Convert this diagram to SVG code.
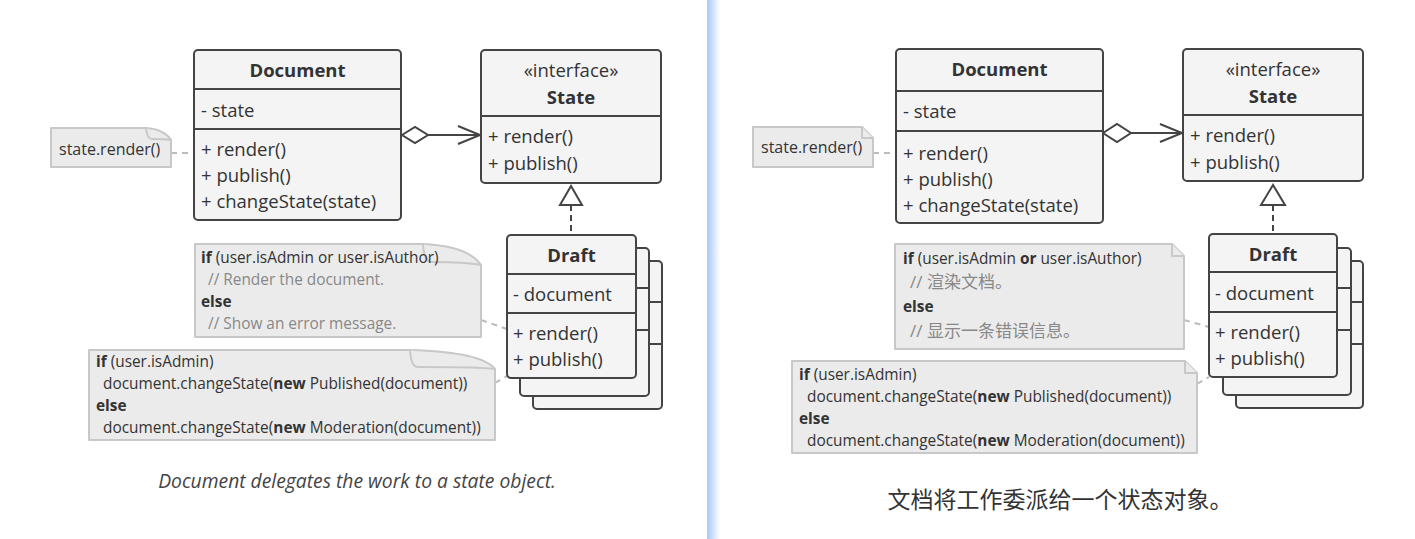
<svg xmlns="http://www.w3.org/2000/svg" width="1415" height="539" viewBox="0 0 1415 539">
<style>
.box{fill:#f4f4f4;stroke:#444;stroke-width:2}
.sep{stroke:#444;stroke-width:2}
.t{font-family:'Open Sans','Noto Sans CJK SC',sans-serif;font-size:18.5px;fill:#333}
.c{text-anchor:middle}
.b{font-weight:bold}
.note{fill:#ebebeb;stroke:#c8c8c8;stroke-width:2;stroke-linejoin:round}
.flap{fill:#ebebeb;stroke:#c8c8c8;stroke-width:2;stroke-linejoin:round}
.nt{font-family:'Open Sans','Noto Sans CJK SC',sans-serif;font-size:15.4px;fill:#333}
.cm{fill:#888}
.zh{font-size:17px}
.dash{stroke:#bbb;stroke-width:2;stroke-dasharray:6 5;fill:none}
.ln{stroke:#444;stroke-width:2;fill:none}
.dl{stroke:#444;stroke-width:2;stroke-dasharray:6 4;fill:none}
.cap{font-family:'Open Sans',sans-serif;font-size:19.3px;font-style:italic;fill:#444}
.capz{font-family:'Noto Sans CJK SC',sans-serif;font-size:23px;fill:#333}
</style>
<defs>
<linearGradient id="div" x1="0" y1="0" x2="1" y2="0">
<stop offset="0" stop-color="#a7c7f5"/>
<stop offset="1" stop-color="#ffffff"/>
</linearGradient>
</defs>
<rect x="0" y="0" width="1415" height="539" fill="#fff"/>
<rect x="707" y="0" width="13" height="539" fill="url(#div)"/>

<!-- LEFT HALF -->
<g id="connectors-left">
<path class="dash" d="M171,153 H194"/>
<path class="dash" d="M481,320 L507,329"/>
<path class="dash" d="M495,383 L507,376"/>
<polygon class="ln" points="402,135 415,127 428,135 415,143" style="fill:#fff"/>
<path class="ln" d="M428,135 H480"/>
<polyline class="ln" points="458,126 480,135 458,144"/>
<path class="dl" d="M571,205 V235"/>
<polygon class="ln" points="571,186 560,205 582,205" style="fill:#fff"/>
</g>

<g id="document-left">
<rect class="box" x="194" y="50" width="207" height="170" rx="4"/>
<line class="sep" x1="194" y1="89" x2="401" y2="89"/>
<line class="sep" x1="194" y1="129" x2="401" y2="129"/>
<text class="t b c" x="297.5" y="77">Document</text>
<text class="t" x="201" y="117">- state</text>
<text class="t" x="201" y="156">+ render()</text>
<text class="t" x="201" y="182">+ publish()</text>
<text class="t" x="201" y="208">+ changeState(state)</text>
</g>

<g id="state-left">
<rect class="box" x="481" y="50" width="180" height="133" rx="4"/>
<line class="sep" x1="481" y1="116" x2="661" y2="116"/>
<text class="t c" x="571" y="77">«interface»</text>
<text class="t b c" x="571" y="104">State</text>
<text class="t" x="488" y="143">+ render()</text>
<text class="t" x="488" y="170">+ publish()</text>
</g>

<g id="draft-left">
<rect class="box" x="533" y="261" width="129" height="148" rx="4"/>
<line class="sep" x1="533" y1="302" x2="662" y2="302"/>
<line class="sep" x1="533" y1="344" x2="662" y2="344"/>
<rect class="box" x="520" y="248" width="129" height="148" rx="4"/>
<line class="sep" x1="520" y1="288" x2="649" y2="288"/>
<line class="sep" x1="520" y1="330" x2="649" y2="330"/>
<rect class="box" x="507" y="235" width="129" height="143" rx="4"/>
<line class="sep" x1="507" y1="274" x2="636" y2="274"/>
<line class="sep" x1="507" y1="313" x2="636" y2="313"/>
<text class="t b c" x="571.5" y="262">Draft</text>
<text class="t" x="513" y="301">- document</text>
<text class="t" x="513" y="340">+ render()</text>
<text class="t" x="513" y="366">+ publish()</text>
</g>

<g id="note-render-left">
<path class="note" d="M51,128 H146 Q164,129 171,140 V167 H51 Z"/>
<path class="flap" d="M146,128 Q147,139 152,139 Q164,139 171,140"/>
<text class="nt" x="59" y="155" style="font-size:16px">state.render()</text>
</g>

<g id="note-draft-render-left">
<path class="note" d="M195,244 H423 Q468,246 481,265 V337 H195 Z"/>
<path class="flap" d="M423,244 Q424,262 432,262 Q466,262 481,265"/>
<text class="nt" x="201" y="263"><tspan class="b">if</tspan> (user.isAdmin or user.isAuthor)</text>
<text class="nt cm" x="208" y="285">// Render the document.</text>
<text class="nt b" x="201" y="307">else</text>
<text class="nt cm" x="208" y="329">// Show an error message.</text>
</g>

<g id="note-draft-publish-left">
<path class="note" d="M89,350 H410 Q482,352 495,369 V440 H89 Z"/>
<path class="flap" d="M410,350 Q411,367 418,367 Q480,367 495,369"/>
<text class="nt" x="96" y="367"><tspan class="b">if</tspan> (user.isAdmin)</text>
<text class="nt" x="103" y="389">document.changeState(<tspan class="b">new</tspan> Published(document))</text>
<text class="nt b" x="96" y="411">else</text>
<text class="nt" x="103" y="433">document.changeState(<tspan class="b">new</tspan> Moderation(document))</text>
</g>

<text class="cap c" x="357" y="488">Document delegates the work to a state object.</text>

<!-- RIGHT HALF -->
<g id="connectors-right">
<path class="dash" d="M873,153 H896"/>
<path class="dash" d="M1184,320 L1209,327"/>
<path class="dash" d="M1197,384 L1209,377"/>
<polygon class="ln" points="1103,133 1117,124 1131,133 1117,142" style="fill:#fff"/>
<path class="ln" d="M1131,133 H1182"/>
<polyline class="ln" points="1160,124 1182,133 1160,142"/>
<path class="dl" d="M1273,205 V234"/>
<polygon class="ln" points="1273,185 1261,205 1285,205" style="fill:#fff"/>
</g>

<g id="document-right">
<rect class="box" x="896" y="49" width="207" height="174" rx="4"/>
<line class="sep" x1="896" y1="91" x2="1103" y2="91"/>
<line class="sep" x1="896" y1="131" x2="1103" y2="131"/>
<text class="t b c" x="999.5" y="76">Document</text>
<text class="t" x="903" y="118">- state</text>
<text class="t" x="903" y="160">+ render()</text>
<text class="t" x="903" y="186">+ publish()</text>
<text class="t" x="903" y="212">+ changeState(state)</text>
</g>

<g id="state-right">
<rect class="box" x="1183" y="49" width="180" height="132" rx="4"/>
<line class="sep" x1="1183" y1="115" x2="1363" y2="115"/>
<text class="t c" x="1273" y="76">«interface»</text>
<text class="t b c" x="1273" y="103">State</text>
<text class="t" x="1190" y="142">+ render()</text>
<text class="t" x="1190" y="169">+ publish()</text>
</g>

<g id="draft-right">
<rect class="box" x="1236" y="261" width="127" height="147" rx="4"/>
<line class="sep" x1="1236" y1="302" x2="1363" y2="302"/>
<line class="sep" x1="1236" y1="344" x2="1363" y2="344"/>
<rect class="box" x="1223" y="248" width="128" height="147" rx="4"/>
<line class="sep" x1="1223" y1="288" x2="1351" y2="288"/>
<line class="sep" x1="1223" y1="330" x2="1351" y2="330"/>
<rect class="box" x="1209" y="234" width="128" height="143" rx="4"/>
<line class="sep" x1="1209" y1="272" x2="1337" y2="272"/>
<line class="sep" x1="1209" y1="312" x2="1337" y2="312"/>
<text class="t b c" x="1273" y="261">Draft</text>
<text class="t" x="1215" y="300">- document</text>
<text class="t" x="1215" y="339">+ render()</text>
<text class="t" x="1215" y="365">+ publish()</text>
</g>

<g id="note-render-right">
<path class="note" d="M753,127 H862 L873,138 V167 H753 Z"/>
<path class="flap" d="M862,127 V138 H873"/>
<text class="nt" x="761" y="153" style="font-size:16px">state.render()</text>
</g>

<g id="note-draft-render-right">
<path class="note" d="M895,244 H1172 L1184,256 V349 H895 Z"/>
<path class="flap" d="M1172,244 V256 H1184"/>
<text class="nt" x="903" y="264"><tspan class="b">if</tspan> (user.isAdmin <tspan class="b">or</tspan> user.isAuthor)</text>
<text class="nt cm zh" x="910" y="288">// 渲染文档。</text>
<text class="nt b" x="903" y="312">else</text>
<text class="nt cm zh" x="910" y="337">// 显示一条错误信息。</text>
</g>

<g id="note-draft-publish-right">
<path class="note" d="M792,361 H1185 L1197,373 V453 H792 Z"/>
<path class="flap" d="M1185,361 V373 H1197"/>
<text class="nt" x="799" y="380"><tspan class="b">if</tspan> (user.isAdmin)</text>
<text class="nt" x="807" y="402">document.changeState(<tspan class="b">new</tspan> Published(document))</text>
<text class="nt b" x="799" y="424">else</text>
<text class="nt" x="807" y="446">document.changeState(<tspan class="b">new</tspan> Moderation(document))</text>
</g>

<text class="capz c" x="1060" y="508">文档将工作委派给一个状态对象。</text>
</svg>
